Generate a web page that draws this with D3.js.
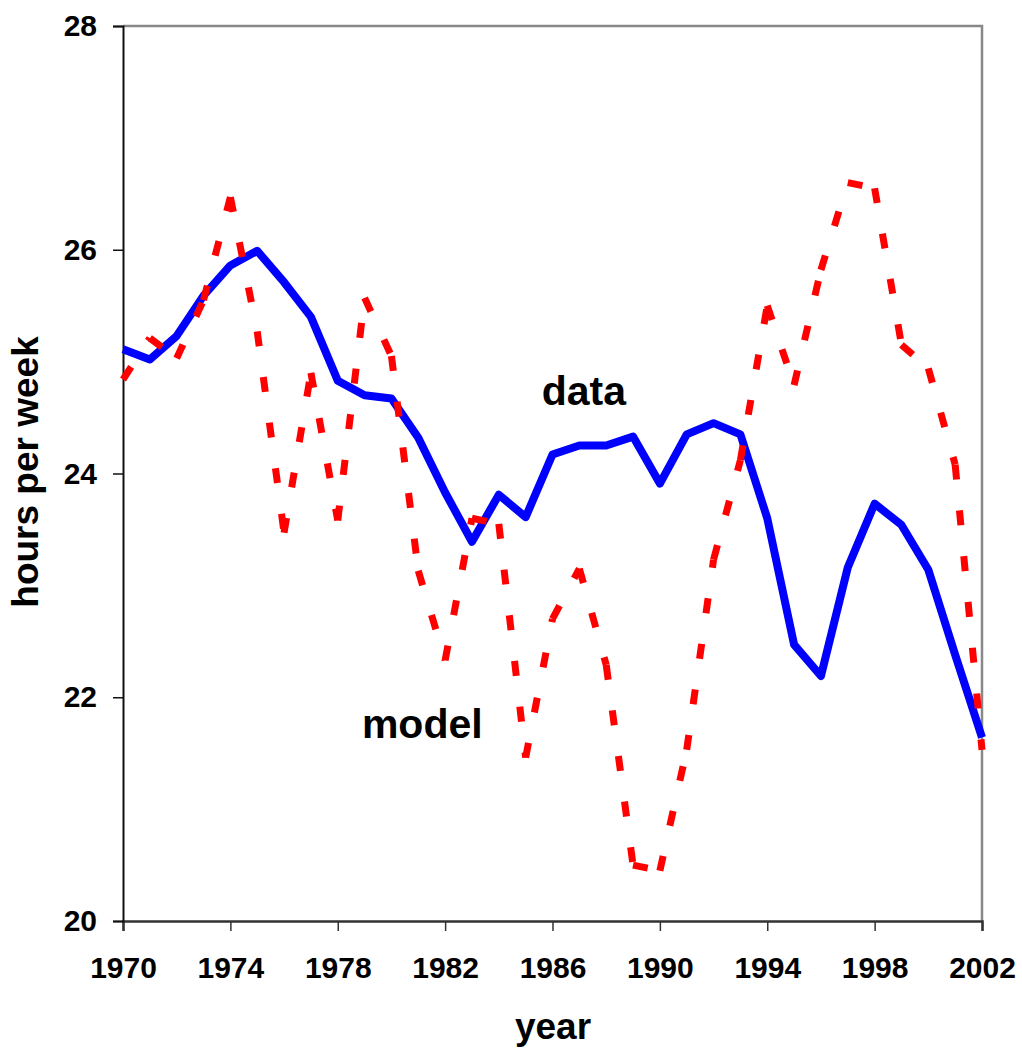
<!DOCTYPE html>
<html>
<head>
<meta charset="utf-8">
<script src="https://cdn.jsdelivr.net/npm/d3@7"></script>
<style>
  body { margin: 0; background: #fff; }
  text { font-family: "Liberation Sans", Arial, sans-serif; font-weight: bold; fill: #000; }
</style>
</head>
<body>
<div id="chart"></div>
<script>
// hours per week, data vs model
var years = d3.range(1970, 2003);
var dataHours = [25.11, 25.02, 25.23, 25.59, 25.86, 25.99, 25.71, 25.40, 24.83, 24.70,
  24.67, 24.32, 23.83, 23.39, 23.81, 23.61, 24.17, 24.25, 24.25, 24.33,
  23.91, 24.35, 24.45, 24.35, 23.60, 22.47, 22.19, 23.16, 23.73, 23.54,
  23.14, 22.38, 21.64];
var modelHours = [24.84, 25.21, 25.03, 25.55, 26.47, 25.27, 23.47, 24.90, 23.58, 25.57,
  25.05, 23.13, 22.33, 23.60, 23.55, 21.46, 22.70, 23.15, 22.29, 20.50,
  20.45, 21.53, 23.23, 24.12, 25.50, 24.79, 25.82, 26.60, 26.55, 25.15,
  24.94, 24.08, 21.53];
var xTicks = [1970, 1974, 1978, 1982, 1986, 1990, 1994, 1998, 2002];
var yTicks = [20, 22, 24, 26, 28];

var width = 1022, height = 1048;
var margin = {left: 123, right: 40, top: 26, bottom: 127};
var w = width - margin.left - margin.right;
var h = height - margin.top - margin.bottom;

var svg = d3.select("#chart").append("svg")
  .attr("width", width)
  .attr("height", height);
var g = svg.append("g")
  .attr("transform", "translate(" + margin.left + "," + margin.top + ")");

var x = d3.scaleLinear().domain([1970, 2002]).range([0, w]);
var y = d3.scaleLinear().domain([20, 28]).range([h, 0]);

// frame: top and right in grey
g.append("path")
  .attr("d", "M0,0H" + w + "V" + h)
  .attr("fill", "none")
  .attr("stroke", "#888")
  .attr("stroke-width", 2.5);

// x axis
var xAxis = g.append("g")
  .attr("transform", "translate(0," + h + ")")
  .call(d3.axisBottom(x).tickValues(xTicks).tickFormat(d3.format("d")).tickSizeOuter(0).tickSize(10).tickPadding(26));
xAxis.select(".domain").attr("stroke", "#333").attr("stroke-width", 2.5);
xAxis.selectAll(".tick line").attr("stroke", "#333").attr("stroke-width", 1.5);
xAxis.selectAll("text").attr("font-size", "30px").attr("font-family", null);

// y axis
var yAxis = g.append("g")
  .call(d3.axisLeft(y).tickValues(yTicks).tickSizeOuter(0).tickSize(10).tickPadding(16));
yAxis.select(".domain").attr("stroke", "#111").attr("stroke-width", 2);
yAxis.selectAll(".tick line").attr("stroke", "#111").attr("stroke-width", 1.5);
yAxis.selectAll("text").attr("font-size", "30px").attr("font-family", null);

// data line
var line = d3.line()
  .x((d, i) => x(years[i]))
  .y((d) => y(d));

g.append("path")
  .datum(dataHours)
  .attr("d", line)
  .attr("fill", "none")
  .attr("stroke", "#0000ff")
  .attr("stroke-width", 8)
  .attr("stroke-linejoin", "round");

// model line, dash pattern restarts at every point
var modelPts = modelHours.map((d, i) => [x(years[i]), y(d)]);
g.selectAll(".seg")
  .data(d3.pairs(modelPts))
  .enter()
  .append("path")
  .attr("class", "seg")
  .attr("d", (d) => d3.line()(d))
  .attr("fill", "none")
  .attr("stroke", "#ff0000")
  .attr("stroke-width", 7)
  .attr("stroke-dasharray", "15,31");

// series labels
g.append("text")
  .attr("x", x(1985.6))
  .attr("y", y(24.61))
  .attr("font-size", "41px")
  .text("data");
g.append("text")
  .attr("x", x(1978.9))
  .attr("y", y(21.64))
  .attr("font-size", "41px")
  .text("model");

// axis titles
svg.append("text")
  .attr("x", 553)
  .attr("y", 1039)
  .attr("text-anchor", "middle")
  .attr("font-size", "37px")
  .text("year");
svg.append("text")
  .attr("transform", "translate(38,472) rotate(-90)")
  .attr("text-anchor", "middle")
  .attr("font-size", "37px")
  .text("hours per week");
</script>
</body>
</html>
